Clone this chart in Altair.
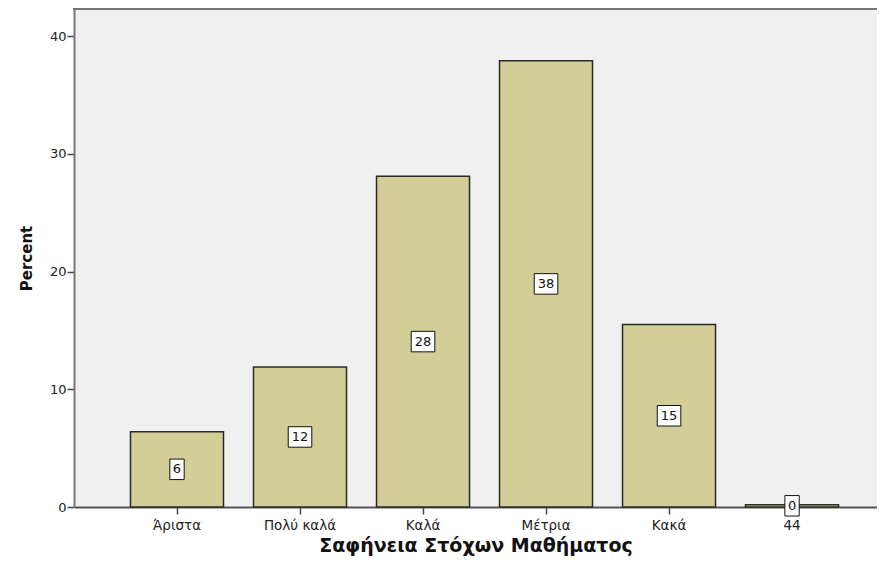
import altair as alt
import pandas as pd

categories = ["Άριστα", "Πολύ καλά", "Καλά", "Μέτρια", "Κακά", "44"]
percents = [6.4, 11.9, 28.1, 37.9, 15.5, 0.2]
labels = ["6", "12", "28", "38", "15", "0"]

df = pd.DataFrame({"cat": categories, "pct": percents, "lab": labels})
df["mid"] = df["pct"] / 2
df["digits"] = df["lab"].str.len()

FONT = "DejaVu Sans"
W, H = 803, 498

x = alt.X("cat:N", sort=categories,
          scale=alt.Scale(paddingInner=0.244, paddingOuter=0.386, align=0.595),
          axis=alt.Axis(title="Σαφήνεια Στόχων Μαθήματος", labelAngle=0,
                        labelFont=FONT, labelFontSize=13.5, labelColor="#222",
                        titleFont=FONT, titleFontSize=19, titleFontWeight="bold",
                        titleColor="#111", titlePadding=5,
                        tickSize=7, tickColor="#444", tickWidth=1.5,
                        domainColor="#555", domainWidth=2, labelPadding=4))

y_scale = alt.Scale(domain=[0, 42.3], nice=False, zero=True)

bars = alt.Chart(df).mark_bar(color="#D3CE97", stroke="#2a2a2a", strokeWidth=1.5).encode(
    x=x,
    y=alt.Y("pct:Q", scale=y_scale,
            axis=alt.Axis(title="Percent", values=[0, 10, 20, 30, 40], grid=False,
                          labelFont=FONT, labelFontSize=13, labelColor="#222",
                          titleFont=FONT, titleFontSize=15, titleFontWeight="bold",
                          titleColor="#111", titlePadding=15,
                          tickSize=7, tickColor="#444", tickWidth=1.5,
                          domainColor="#777", domainWidth=2, labelPadding=1)),
)

top_border = alt.Chart(df).mark_rule(color="#777", strokeWidth=2).encode(
    x=alt.value(-1), x2=alt.value(W), y=alt.value(0))

box1 = alt.Chart(df).transform_filter("datum.digits == 1").mark_point(
    shape="M-0.7,-1H0.7V1H-0.7Z", size=420, filled=True, fill="white",
    stroke="#111", strokeWidth=1, opacity=1).encode(
    x=alt.X("cat:N", sort=categories), y=alt.Y("mid:Q", scale=y_scale))

box2 = alt.Chart(df).transform_filter("datum.digits == 2").mark_point(
    shape="M-1.15,-1H1.15V1H-1.15Z", size=420, filled=True, fill="white",
    stroke="#111", strokeWidth=1, opacity=1).encode(
    x=alt.X("cat:N", sort=categories), y=alt.Y("mid:Q", scale=y_scale))

text = alt.Chart(df).mark_text(font=FONT, fontSize=13, color="#111", baseline="middle").encode(
    x=alt.X("cat:N", sort=categories), y=alt.Y("mid:Q", scale=y_scale), text="lab:N")

chart = alt.layer(bars, top_border, box1, box2, text).properties(
    width=W, height=H,
    autosize=alt.AutoSizeParams(type="none"),
    padding={"left": 66, "top": 1, "right": 0, "bottom": 49},
).configure_view(fill="#F0F0F0", strokeWidth=0)

chart.save("out.html", embed_options={"renderer": "svg", "actions": False})
